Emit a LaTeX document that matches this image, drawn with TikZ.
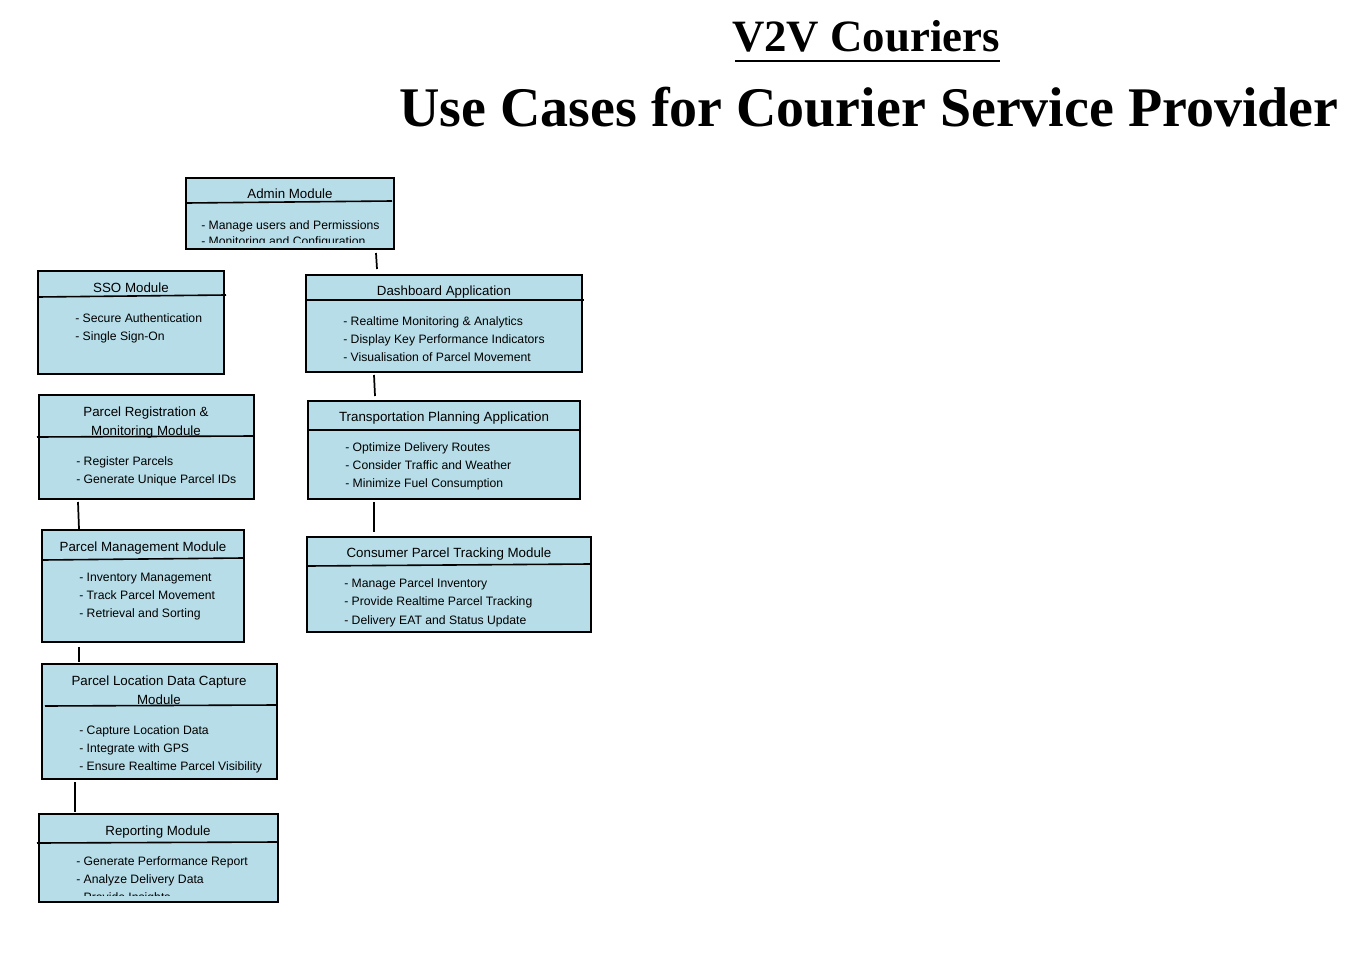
\documentclass[tikz,border=0pt]{standalone}
\usepackage{fontspec}
\setmainfont{Liberation Sans}
\newfontfamily\titlefont{Liberation Serif}
\usetikzlibrary{fit,calc}
\definecolor{boxblue}{HTML}{B7DDE8}
\begin{document}
\begin{tikzpicture}[x=0.75pt,y=-0.75pt,
 ucbox/.style={draw=black, line width=1.5pt, fill=boxblue, inner sep=0pt},
 divider/.style={draw=black, line width=1.2pt},
 boxtitle/.style={anchor=base, font=\fontsize{10}{12}\selectfont, inner sep=0pt, yshift=-0.75pt},
 item/.style={anchor=base west, font=\fontsize{9.15}{11}\selectfont, inner sep=0pt, yshift=-0.75pt},
 link/.style={draw=black, line width=1.3pt}]
\useasboundingbox (0,0) rectangle (1353,963);

% Titles
\node[anchor=base, inner sep=0pt, font=\titlefont\bfseries\fontsize{33.6}{40}\selectfont] (t1) at (866,52) {V2V Couriers};
\draw[line width=2pt] (735,61) -- (1000,61);
\node[anchor=base west, inner sep=0pt, font=\titlefont\bfseries\fontsize{41.97}{50}\selectfont] (t2) at (399,127) {Use Cases for Courier Service Provider};

% Admin Module
\node[ucbox, fit={(186,178)(394,249)}] (admin) {};
\draw[divider] (187,203) -- (392,201);
\node[boxtitle] (adminT) at (290,198) {Admin Module};
\begin{scope}
\clip (188,204) rectangle (392,242);
\node[item] (admin1) at (201,228) {- Manage users and Permissions};
\node[item] (admin2) at (201,244) {- Monitoring and Configuration};
\end{scope}

% SSO Module
\node[ucbox, fit={(38,271)(224,374)}] (sso) {};
\draw[divider] (38,297) -- (226,295);
\node[boxtitle] (ssoT) at (131,291) {SSO Module};
\node[item] (sso1) at (75,321) {- Secure Authentication};
\node[item] (sso2) at (75,339) {- Single Sign-On};

% Dashboard Application
\node[ucbox, fit={(306,275)(582,372)}] (dash) {};
\draw[divider] (307,300) -- (584,300);
\node[boxtitle] (dashT) at (444,294) {Dashboard Application};
\node[item] (dash1) at (343,324) {- Realtime Monitoring \& Analytics};
\node[item] (dash2) at (343,342) {- Display Key Performance Indicators};
\node[item] (dash3) at (343,360) {- Visualisation of Parcel Movement};

% Transportation Planning Application
\node[ucbox, fit={(308,401)(580,499)}] (trans) {};
\draw[divider] (309,430) -- (579,430);
\node[boxtitle] (transT) at (444,420) {Transportation Planning Application};
\node[item] (trans1) at (345,450) {- Optimize Delivery Routes};
\node[item] (trans2) at (345,468) {- Consider Traffic and Weather};
\node[item] (trans3) at (345,486) {- Minimize Fuel Consumption};

% Consumer Parcel Tracking Module
\node[ucbox, fit={(307,537)(591,632)}] (cons) {};
\draw[divider] (308,566) -- (590,564);
\node[boxtitle] (consT) at (449,556) {Consumer Parcel Tracking Module};
\begin{scope}
\clip (309,566) rectangle (589,626);
\node[item] (cons1) at (344,586) {- Manage Parcel Inventory};
\node[item] (cons2) at (344,604) {- Provide Realtime Parcel Tracking};
\node[item] (cons3) at (344,623) {- Delivery EAT and Status Update};
\end{scope}

% Parcel Registration & Monitoring Module
\node[ucbox, fit={(39,395)(254,499)}] (reg) {};
\draw[divider] (37,437) -- (254,436);
\node[boxtitle] (regT1) at (146,415) {Parcel Registration \&};
\node[boxtitle] (regT2) at (146,434) {Monitoring Module};
\node[item] (reg1) at (76,464) {- Register Parcels};
\node[item] (reg2) at (76,482) {- Generate Unique Parcel IDs};

% Parcel Management Module
\node[ucbox, fit={(42,530)(244,642)}] (mgmt) {};
\draw[divider] (43,560) -- (243,558);
\node[boxtitle] (mgmtT) at (143,550) {Parcel Management Module};
\node[item] (mgmt1) at (79,580) {- Inventory Management};
\node[item] (mgmt2) at (79,598) {- Track Parcel Movement};
\node[item] (mgmt3) at (79,616) {- Retrieval and Sorting};

% Parcel Location Data Capture Module
\node[ucbox, fit={(42,664)(277,779)}] (loc) {};
\draw[divider] (45,706) -- (277,705);
\node[boxtitle] (locT1) at (159,684) {Parcel Location Data Capture};
\node[boxtitle] (locT2) at (159,703) {Module};
\node[item] (loc1) at (79,733) {- Capture Location Data};
\node[item] (loc2) at (79,751) {- Integrate with GPS};
\node[item] (loc3) at (79,769) {- Ensure Realtime Parcel Visibility};

% Reporting Module
\node[ucbox, fit={(39,814)(278,902)}] (rep) {};
\draw[divider] (37,843) -- (278,842);
\node[boxtitle] (repT) at (158,834) {Reporting Module};
\begin{scope}
\clip (40,843) rectangle (277,895);
\node[item] (rep1) at (76,864) {- Generate Performance Report};
\node[item] (rep2) at (76,882) {- Analyze Delivery Data};
\node[item] (rep3) at (76,900) {- Provide Insights};
\end{scope}

% Connectors
\draw[link] ($(admin.south west)+(191,3)$) -- ($(dash.north west)+(72,-5)$);
\draw[link] ($(dash.south west)+(69,2)$) -- ($(trans.north west)+(68,-4)$);
\draw[link] ($(trans.south west)+(67,2)$) -- ($(cons.north west)+(68,-4)$);
\draw[link] ($(reg.south west)+(40,2)$) -- ($(mgmt.north west)+(38,0)$);
\draw[link] ($(mgmt.south west)+(38,4)$) -- ($(loc.north west)+(38,-1)$);
\draw[link] ($(loc.south west)+(34,2)$) -- ($(rep.north west)+(37,-1)$);
\end{tikzpicture}
\end{document}
